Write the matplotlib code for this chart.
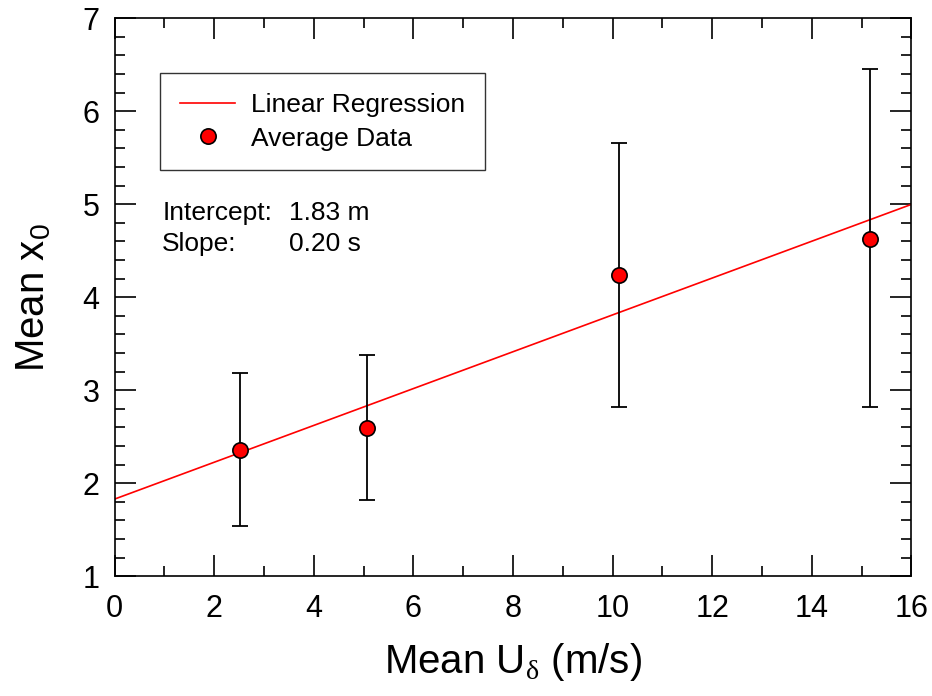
import numpy as np
import matplotlib.pyplot as plt
from matplotlib.ticker import MultipleLocator

plt.rcParams['font.family'] = ['Liberation Sans', 'DejaVu Sans']
plt.rcParams['mathtext.fontset'] = 'custom'
plt.rcParams['mathtext.rm'] = 'Liberation Sans'
plt.rcParams['mathtext.it'] = 'Liberation Sans:italic'
plt.rcParams['mathtext.sf'] = 'Liberation Serif'

# averaged data with error bar limits
u_mean = [2.52, 5.07, 10.13, 15.17]
x0_mean = [2.36, 2.59, 4.24, 4.63]
x0_top = [3.18, 3.38, 5.66, 6.45]
x0_bottom = [1.54, 1.82, 2.82, 2.82]

intercept = 1.83
slope = 0.198
fit_x = [0, 16]

fig, ax = plt.subplots(figsize=(9.32, 6.96), dpi=100)
fig.subplots_adjust(left=0.123, right=0.978, top=0.974, bottom=0.172)

fit_y = [intercept + slope * v for v in fit_x]
ax.plot(fit_x, fit_y, color='red', lw=1.2, label='Linear Regression', zorder=2)

yerr = [np.array(x0_mean) - np.array(x0_bottom), np.array(x0_top) - np.array(x0_mean)]
ax.errorbar(u_mean, x0_mean, yerr=yerr, fmt='none', ecolor='black', elinewidth=1.3,
            capsize=6, capthick=1.3, zorder=3)
ax.plot(u_mean, x0_mean, 'o', color='red', markeredgecolor='black', markersize=11,
        markeredgewidth=1.2, ls='none', label='Average Data', zorder=4)

ax.set_xlim(0, 16)
ax.set_ylim(1, 7)
ax.xaxis.set_major_locator(MultipleLocator(2))
ax.xaxis.set_minor_locator(MultipleLocator(1))
ax.yaxis.set_major_locator(MultipleLocator(1))
ax.yaxis.set_minor_locator(MultipleLocator(0.2))
ax.tick_params(which='both', direction='in', top=True, right=True, width=1.2)
ax.tick_params(which='major', length=15, labelsize=22)
ax.tick_params(axis='x', which='major', pad=13)
ax.tick_params(axis='y', which='major', pad=11)
ax.tick_params(which='minor', length=7)
for s in ax.spines.values():
    s.set_linewidth(1.2)

ax.set_xlabel(r'Mean U$_\mathsf{\delta}$ (m/s)', fontsize=29, labelpad=12)
ax.set_ylabel(r'Mean x$_0$', fontsize=29, labelpad=21)

leg = ax.legend(loc='upper left', bbox_to_anchor=(0.057, 0.901), fontsize=19,
                frameon=True, fancybox=False, edgecolor='black', handlelength=2.1,
                borderpad=0.75, labelspacing=0.36, handletextpad=0.6, borderaxespad=0)
leg.get_frame().set_linewidth(1.0)

ax.text(0.0596, 0.650, 'Intercept:', transform=ax.transAxes, fontsize=19, va='center')
ax.text(0.219, 0.650, '1.83 m', transform=ax.transAxes, fontsize=19, va='center')
ax.text(0.0596, 0.596, 'Slope:', transform=ax.transAxes, fontsize=19, va='center')
ax.text(0.219, 0.596, '0.20 s', transform=ax.transAxes, fontsize=19, va='center')

fig.savefig('out.png', dpi=100)
